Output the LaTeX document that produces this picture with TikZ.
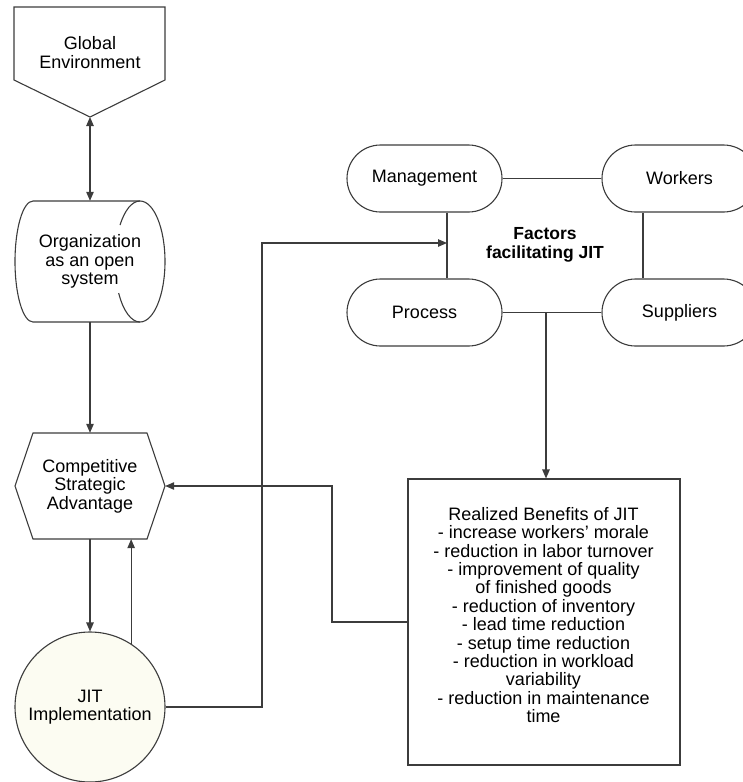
\documentclass[tikz,border=0pt]{standalone}
\usepackage{fontspec}
\setmainfont{Liberation Sans}
\usetikzlibrary{arrows.meta,calc}
\definecolor{linegray}{HTML}{3C3C3C}
\definecolor{cream}{HTML}{FCFCF2}

\begin{document}
\begin{tikzpicture}[x=1pt,y=-1pt,
  outline/.style={draw=linegray, line width=1.1pt},
  conn/.style={draw=linegray, line width=1.1pt},
  tip/.tip={Triangle[length=9pt,width=7.5pt]},
  arr/.style={conn, -tip},
  lbl/.style={font=\fontsize{18}{18.4}\selectfont, align=center, text=black, inner sep=0pt},
  stadium/.style={lbl, outline, fill=white, rectangle, rounded corners=33.5pt,
                  minimum width=155pt, minimum height=67pt},
]
\path[use as bounding box, clip] (0,0) rectangle (743,782);

% --- left column outlines ---
% pentagon pointing down
\draw[outline] (14,7) -- (165,7) -- (165,80) -- (90,117) -- (14,80) -- cycle;
% horizontal cylinder
\draw[outline] (33,201) -- (140,201)
  arc[start angle=-90, end angle=90, x radius=25, y radius=60.5]
  -- (33,322)
  arc[start angle=90, end angle=270, x radius=18, y radius=60.5] -- cycle;
\draw[outline] (140,201) arc[start angle=270, end angle=217, x radius=25, y radius=60.5];
\draw[outline] (140,322) arc[start angle=90, end angle=148.6, x radius=25, y radius=60.5];
% hexagon
\draw[outline] (33,433) -- (147,433) -- (165,486) -- (147,539) -- (33,539) -- (15,486) -- cycle;

% --- left column nodes ---
\node[lbl] (genv) at (90,52.5) {Global\\Environment};
\coordinate (genvtip) at (90,117);
\node[lbl, minimum width=150pt, minimum height=121pt] (org) at (90,261.5) {Organization\\as an open\\system};
\node[lbl, minimum width=150pt, minimum height=106pt] (csa) at (90,486) {Competitive\\Strategic\\Advantage};
\node[lbl, circle, outline, fill=cream, minimum size=150pt] (jit) at (90,707) {JIT\\Implementation};

% --- factors cluster ---
\node[stadium] (mgmt) at (424.5,178.5) {Management};
\node[stadium] (wrk)  at (679.5,178.5) {Workers};
\node[stadium] (proc) at (424.5,312.5) {Process};
\node[stadium] (sup)  at (679.5,312.5) {Suppliers};
\node[lbl, font=\fontsize{17.5}{18.4}\selectfont\bfseries] (fac) at (545,245) {Factors\\facilitating JIT};

% --- benefits box ---
\node[outline, rectangle, minimum width=272pt, minimum height=286pt, inner sep=0pt] (ben) at (544,622) {};
\node[lbl] (bentxt) at (543.5,615) {Realized Benefits of JIT\\
- increase workers’ morale\\
- reduction in labor turnover\\
- improvement of quality\\
of finished goods\\
- reduction of inventory\\
- lead time reduction\\
- setup time reduction\\
- reduction in workload\\
variability\\
- reduction in maintenance\\
time};

% --- connectors ---
\draw[conn, tip-tip] (genvtip) -- (org.north);
\draw[arr] (org.south) -- (csa.north);
\draw[arr] (csa.south) -- (jit.north);
\draw[arr] (jit.57.8) -- (jit.57.8 |- csa.south);

\draw[conn] (mgmt) -- (wrk);
\draw[conn] (proc) -- (sup);
\draw[conn] ($(mgmt.south)+(22.5,0)$) -- ($(proc.north)+(22.5,0)$);
\draw[conn] ($(wrk.south)+(-36.5,0)$) -- ($(sup.north)+(-36.5,0)$);

\coordinate (bendA) at (262,243);
\coordinate (facin) at (447,243);
\draw[arr] (jit.east) -| (bendA) -- (facin);

\coordinate (fout) at (546,312.5);
\draw[arr] (fout) -- (fout |- ben.north);

\coordinate (bendB) at (332,486);
\draw[arr] (ben.west) -| (bendB) -- (csa.east);
\end{tikzpicture}
\end{document}
